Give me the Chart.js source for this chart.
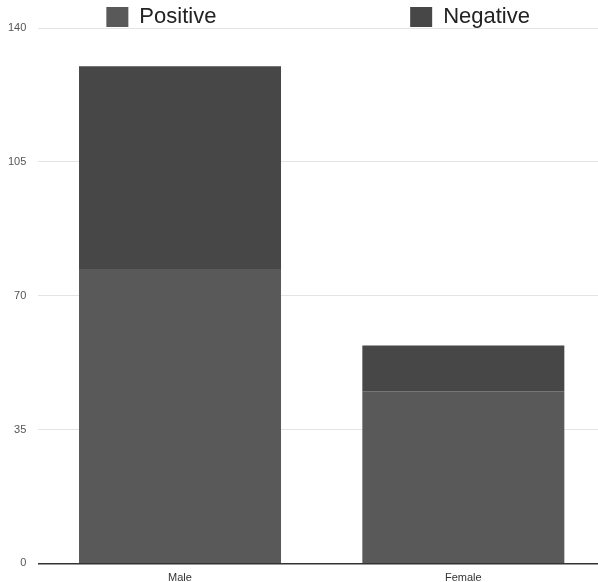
<!DOCTYPE html>
<html>
<head>
<meta charset="utf-8">
<script src="https://cdn.jsdelivr.net/npm/chart.js@4/dist/chart.umd.min.js"></script>
<style>
  html, body { margin: 0; padding: 0; background: #ffffff; }
  #wrap { width: 598px; height: 582px; }
</style>
</head>
<body>
<div id="wrap"><canvas id="chart" width="598" height="582"></canvas></div>
<script>
// Survey counts by gender
const categories = ['Male', 'Female'];
const positive = [77, 45];
const negative = [53, 12];
const yTicks = [0, 35, 70, 105, 140];

const positiveColor = '#595959';
const negativeColor = '#474747';
const fontFamily = '"Liberation Sans", Arial, Helvetica, sans-serif';

// Let the category band run slightly past the right edge of the canvas
const extendCategoryAxis = {
  id: 'extendCategoryAxis',
  afterLayout(chart) {
    const x = chart.scales.x;
    x.right = chart.chartArea.right + 7;
    x.width = x.right - x.left;
    x.configure();
  }
};

new Chart(document.getElementById('chart'), {
  type: 'bar',
  data: {
    labels: categories,
    datasets: [
      { label: 'Positive', data: positive, backgroundColor: positiveColor, borderWidth: 0 },
      { label: 'Negative', data: negative, backgroundColor: negativeColor, borderWidth: 0 }
    ]
  },
  plugins: [extendCategoryAxis],
  options: {
    responsive: false,
    animation: false,
    layout: { padding: { left: -4, right: 0, top: 0, bottom: -11 } },
    datasets: {
      bar: { categoryPercentage: 0.713, barPercentage: 1 }
    },
    plugins: {
      tooltip: { enabled: false },
      legend: {
        position: 'top',
        fullSize: false,
        maxHeight: 28,
        labels: {
          font: { family: fontFamily, size: 22 },
          color: '#222222',
          boxWidth: 22,
          boxHeight: 20,
          padding: 6,
          generateLabels(chart) {
            const items = Chart.defaults.plugins.legend.labels.generateLabels(chart);
            // widen the first entry so the two keys sit far apart
            items[0].text = items[0].text + ' '.repeat(30) + '\u2009';
            items.forEach(it => { it.lineWidth = 0; });
            return items;
          }
        }
      }
    },
    scales: {
      x: {
        stacked: true,
        grid: { display: false, drawTicks: false },
        border: { display: true, color: '#333333', width: 1.5 },
        ticks: {
          font: { family: fontFamily, size: 11 },
          color: '#333333',
          padding: 8
        }
      },
      y: {
        stacked: true,
        min: 0,
        max: 140,
        afterBuildTicks(scale) {
          scale.ticks = yTicks.map(v => ({ value: v }));
        },
        grid: { color: '#e4e4e4', lineWidth: 1, drawTicks: false },
        border: { display: false },
        ticks: {
          font: { family: fontFamily, size: 11 },
          color: '#555555',
          padding: 12
        }
      }
    }
  }
});
</script>
</body>
</html>
